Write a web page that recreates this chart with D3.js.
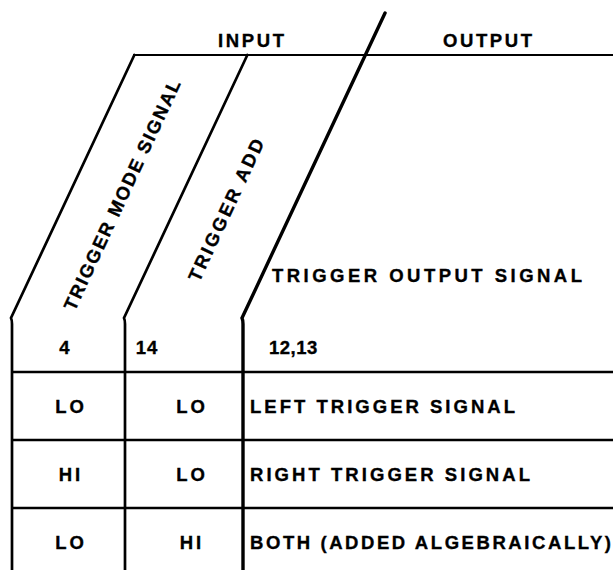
<!DOCTYPE html>
<html>
<head>
<meta charset="utf-8">
<script src="https://cdn.jsdelivr.net/npm/d3@7"></script>
<style>
  html, body { margin: 0; padding: 0; background: #fff; }
  svg { display: block; }
  text { font-family: "Liberation Sans", Arial, Helvetica, sans-serif; font-weight: bold; fill: #000; stroke: #000; stroke-width: 0.35px; }
</style>
</head>
<body>
<svg id="chart" width="613" height="570"></svg>
<script>
// ---- data ----
const groups = ["INPUT", "OUTPUT"];
const columns = ["TRIGGER MODE SIGNAL", "TRIGGER ADD", "TRIGGER OUTPUT SIGNAL"];
const pins = ["4", "14", "12,13"];
const modeSignal = ["LO", "HI", "LO"];
const triggerAdd = ["LO", "LO", "HI"];
const outputSignal = ["LEFT TRIGGER SIGNAL", "RIGHT TRIGGER SIGNAL", "BOTH (ADDED ALGEBRAICALLY)"];

// ---- layout ----
const svg = d3.select("#chart");
const W = 613, H = 570;
const fs = 18.5;
const topY = 55;          // top horizontal rule
const kneeY = 318;        // where slanted lines turn vertical
const vertTop = 322;
const slope = 0.469;      // dx per dy of slanted column dividers

const colX = [12, 125, 243];   // vertical divider x positions (bottom part)
const rowScale = d3.scaleBand().domain(d3.range(modeSignal.length)).range([372, 576]).paddingInner(0);

const line = d3.line();
const g = svg.append("g");

// top rule
g.append("path").attr("d", line([[133, topY], [W, topY]]))
  .attr("stroke", "#000").attr("stroke-width", 2).attr("fill", "none");

// slanted + vertical dividers
const dividerTops = [topY, topY, 13];
colX.forEach((x, i) => {
  const topYi = dividerTops[i];
  const xTop = x + slope * (kneeY - topYi) - 1;
  const path = d3.path();
  path.moveTo(xTop, topYi);
  path.lineTo(x - 1, kneeY);
  path.quadraticCurveTo(x, kneeY + 2, x, vertTop + 2);
  path.lineTo(x, H);
  g.append("path").attr("d", path.toString())
    .attr("stroke", "#000").attr("stroke-width", i === 2 ? 3.4 : 2.7)
    .attr("fill", "none").attr("stroke-linecap", "round");
});

// horizontal row rules
modeSignal.forEach((d, i) => {
  const y = rowScale(i);
  g.append("path").attr("d", line([[colX[0], y], [W, y]]))
    .attr("stroke", "#000").attr("stroke-width", 2.4).attr("fill", "none");
});

// group headers
const groupPos = [{x: 218, w: 66}, {x: 443, w: 89}];
groups.forEach((t, i) => {
  svg.append("text").attr("x", groupPos[i].x).attr("y", 47)
    .attr("font-size", fs)
    .attr("textLength", groupPos[i].w).attr("lengthAdjust", "spacing")
    .text(t);
});

// rotated column headers
const rotPos = [{cx: 122, cy: 195, w: 252}, {cx: 226, cy: 210, w: 155}];
rotPos.forEach((p, i) => {
  svg.append("text")
    .attr("transform", `translate(${p.cx},${p.cy}) rotate(-65)`)
    .attr("x", -p.w / 2).attr("y", 6.5)
    .attr("font-size", fs)
    .attr("textLength", p.w).attr("lengthAdjust", "spacing")
    .text(columns[i]);
});

// output header
svg.append("text").attr("x", 272).attr("y", 282)
  .attr("font-size", fs).attr("textLength", 310).attr("lengthAdjust", "spacing")
  .text(columns[2]);

// pin numbers
const pinPos = [{x: 65, anchor: "middle"}, {x: 147, anchor: "middle"}, {x: 269, anchor: "start"}];
pins.forEach((t, i) => {
  svg.append("text").attr("x", pinPos[i].x).attr("y", 354)
    .attr("font-size", fs).attr("text-anchor", pinPos[i].anchor)
    .attr("letter-spacing", i === 2 ? 0.5 : 1)
    .text(t);
});

// table body
const outWidths = [265, 280, 361];
modeSignal.forEach((d, i) => {
  const yb = rowScale(i) + rowScale.bandwidth() / 2 + 7;
  svg.append("text").attr("x", 71).attr("y", yb).attr("font-size", fs)
    .attr("text-anchor", "middle").attr("letter-spacing", 3).text(modeSignal[i]);
  svg.append("text").attr("x", 192).attr("y", yb).attr("font-size", fs)
    .attr("text-anchor", "middle").attr("letter-spacing", 3).text(triggerAdd[i]);
  svg.append("text").attr("x", 250).attr("y", yb).attr("font-size", fs)
    .attr("textLength", outWidths[i]).attr("lengthAdjust", "spacing").text(outputSignal[i]);
});
</script>
</body>
</html>
